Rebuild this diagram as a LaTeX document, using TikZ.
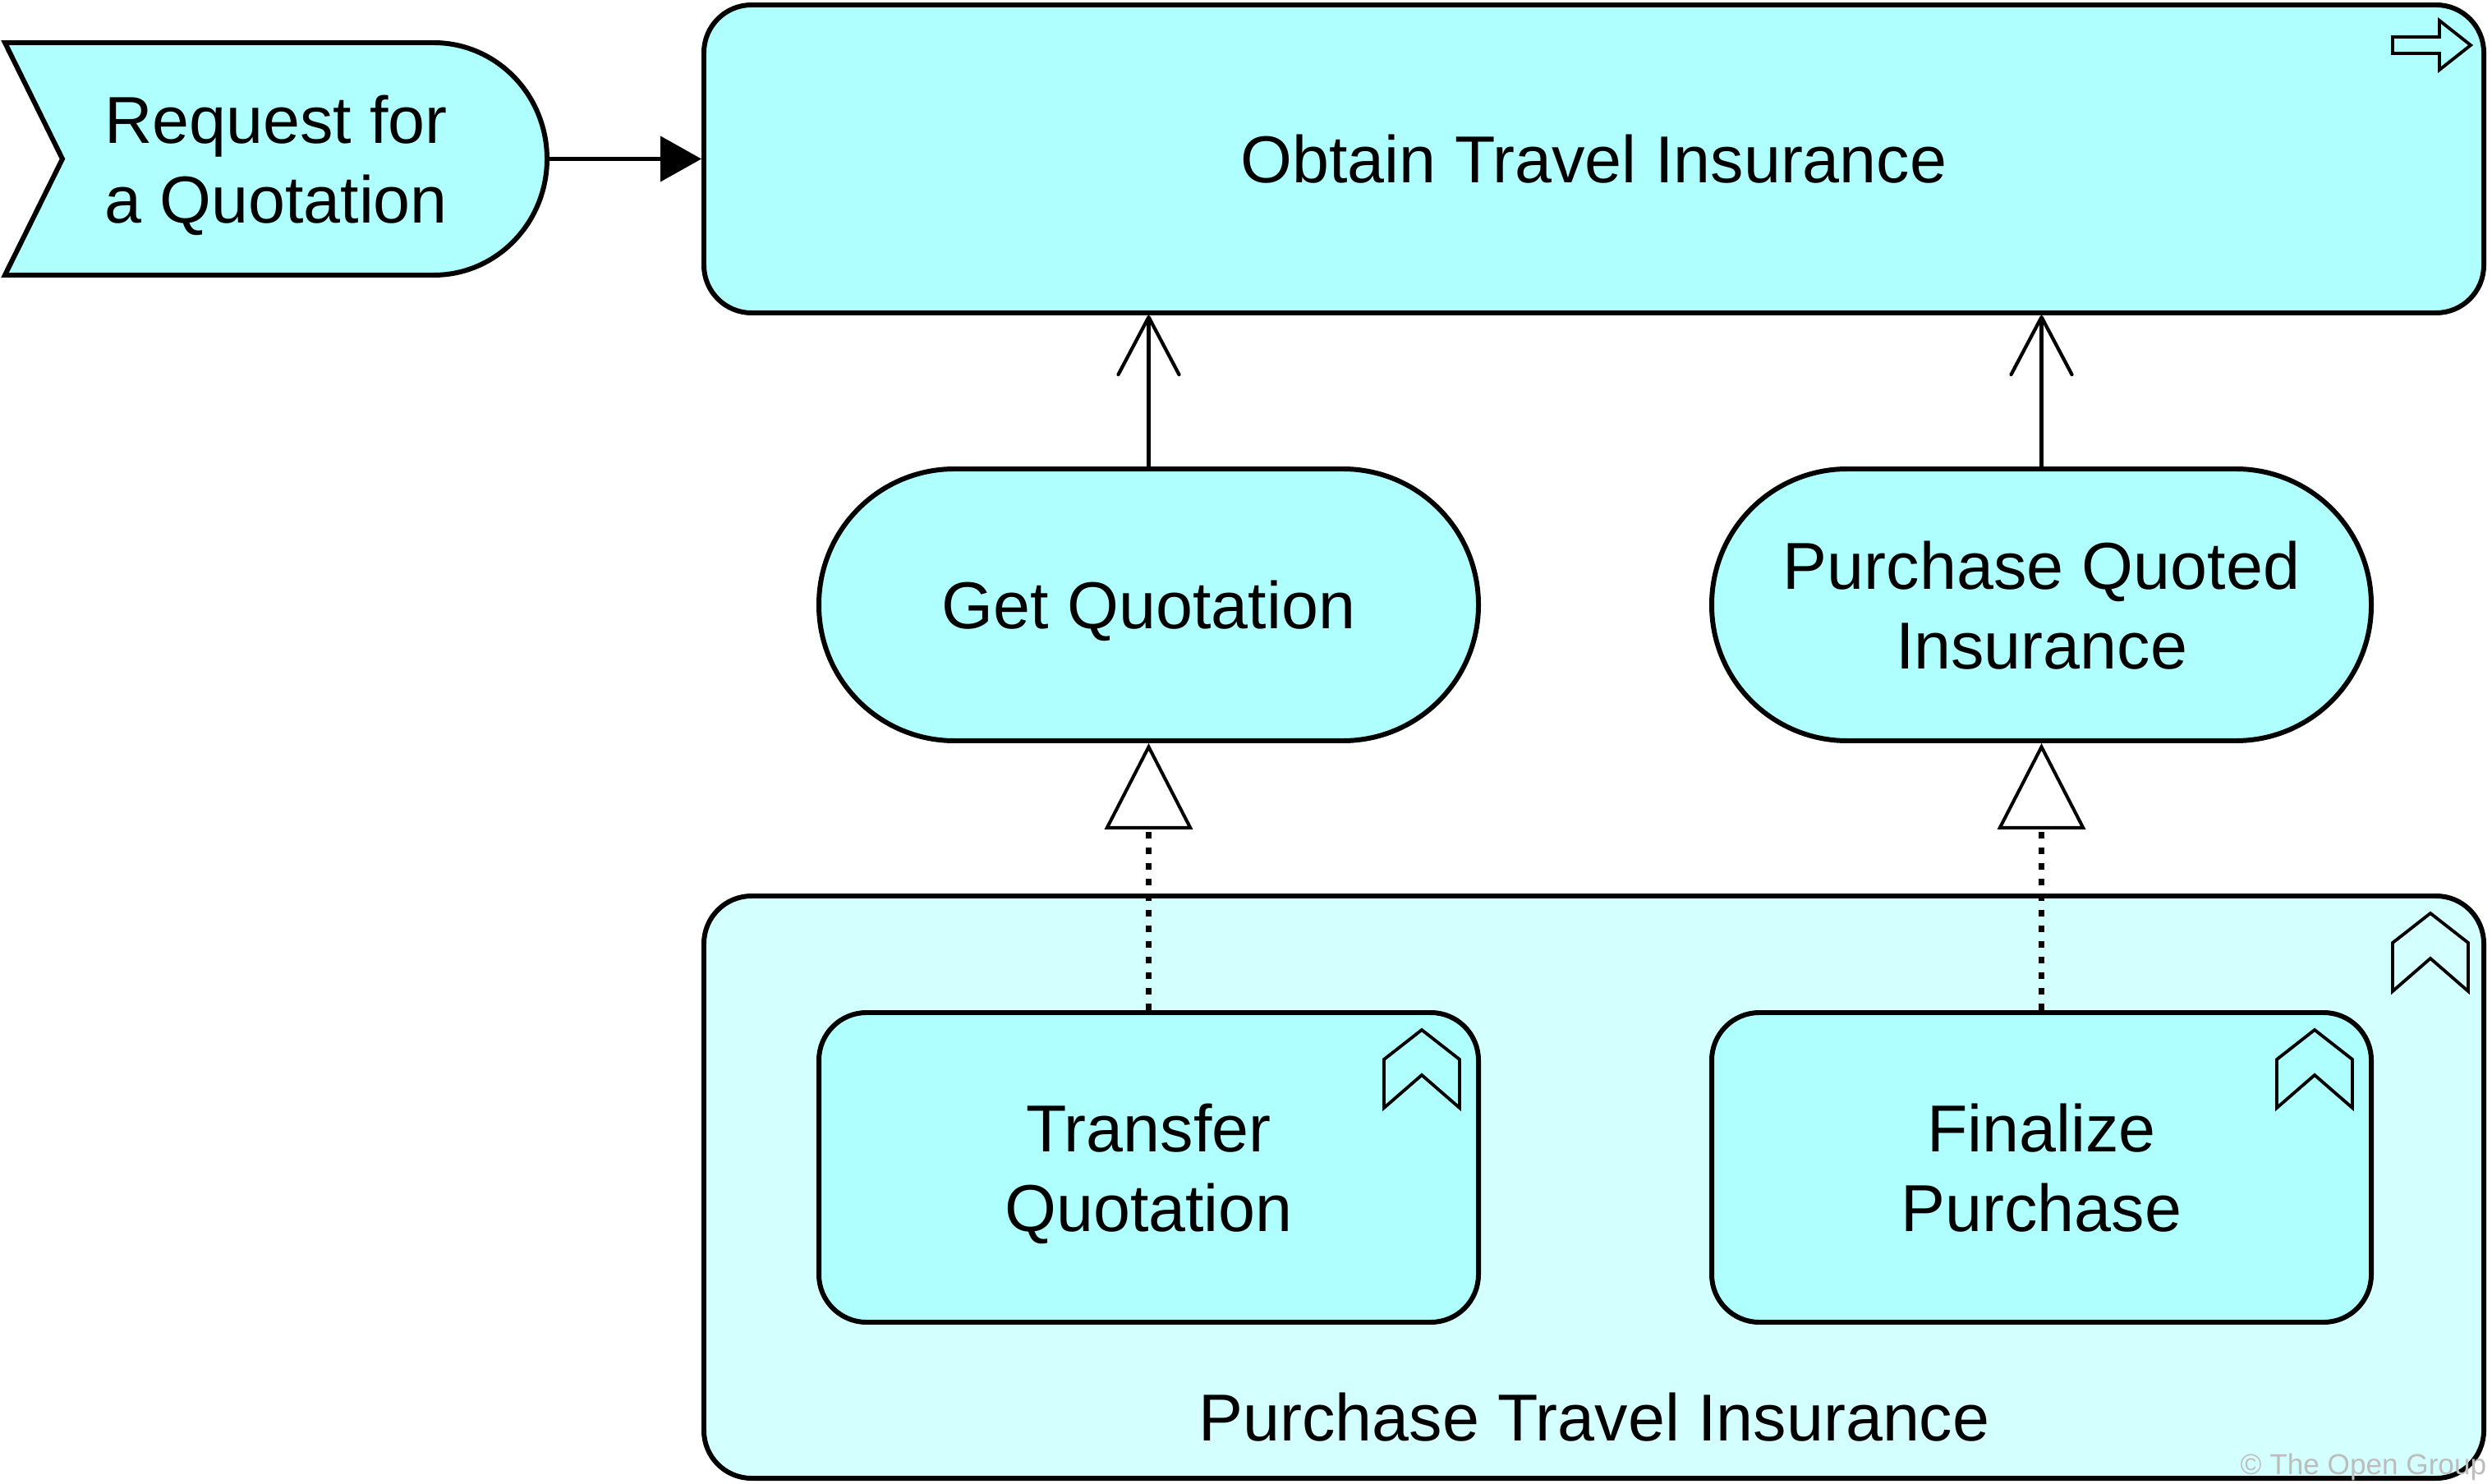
\documentclass[tikz,border=0pt]{standalone}
\usepackage{fontspec}
\setmainfont{Liberation Sans}
\usetikzlibrary{arrows.meta}

\definecolor{elemfill}{HTML}{AFFFFF}
\definecolor{groupfill}{HTML}{D4FFFF}
\definecolor{notegray}{HTML}{BDBDBD}

\tikzset{
  element/.style={draw,line width=1.7pt,fill=elemfill,align=center,
    inner sep=0pt,text depth=0pt},
  process/.style={element,rounded corners=0.58cm,
    minimum width=21.67cm,minimum height=3.75cm},
  service/.style={element,rounded corners=1.65cm,
    minimum width=8.03cm,minimum height=3.31cm},
  function/.style={element,rounded corners=0.58cm,
    minimum width=8.03cm,minimum height=3.77cm},
  group/.style={function,fill=groupfill,
    minimum width=21.67cm,minimum height=7.09cm},
  icon/.style={line width=1.1pt,line join=miter},
  triggers/.style={line width=1.15pt,
    -{Triangle[length=0.5cm,width=0.55cm]}},
  serves/.style={line width=1.2pt,
    -{Straight Barb[length=0.7cm,width=0.74cm,round]}},
  realizes/.style={line width=1.8pt,dash pattern=on 2.4pt off 3pt,
    -{Triangle[length=1.05cm,width=1.07cm,fill=white,line width=1.15pt]}},
  procicon/.pic={
    \draw[icon] (0,0) -- (-0.38,0.30) -- (-0.38,0.10) -- (-0.95,0.10)
      -- (-0.95,-0.10) -- (-0.38,-0.10) -- (-0.38,-0.30) -- cycle;
  },
  funcicon/.pic={
    \draw[icon] (0,0) -- (0.46,-0.36) -- (0.46,-0.95) -- (0,-0.55)
      -- (-0.46,-0.95) -- (-0.46,-0.36) -- cycle;
  }
}

\begin{document}
\begin{tikzpicture}[font=\fontsize{23}{27.6}\selectfont]
    \useasboundingbox (0,0) rectangle (30.34,18.06);

    \draw[line width=1.7pt,fill=elemfill,line join=miter]
        (0.06,17.54) -- (5.28,17.54)
        arc[start angle=90,end angle=-90,x radius=1.38,y radius=1.415]
        -- (0.06,14.71) -- (0.76,16.125) -- cycle;
    \node[align=center,inner sep=0pt,text depth=0pt,
        minimum width=6.60cm,minimum height=2.83cm]
        (request) at (3.36,16.125) {Request for\\a Quotation};

    \node[process] (obtain) at (19.405,16.125) {Obtain Travel Insurance};
    \pic at ([shift={(-0.19,-0.52)}]obtain.north east) {procicon};

    \node[service] (getquote) at (13.985,10.695) {Get Quotation};
    \node[service] (buyquoted) at (24.855,10.695)
        {Purchase Quoted\\Insurance};

    \node[group] (buytravel) at (19.405,3.605) {};
    \pic at ([shift={(-0.68,-0.24)}]buytravel.north east) {funcicon};
    \node (buytravel-label) at (19.41,0.80) {Purchase Travel Insurance};

    \node[function] (transfer) at (13.985,3.845) {Transfer\\Quotation};
    \pic at ([shift={(-0.72,-0.24)}]transfer.north east) {funcicon};
    \node[function] (finalize) at (24.855,3.845) {Finalize\\Purchase};
    \pic at ([shift={(-0.72,-0.24)}]finalize.north east) {funcicon};

    \draw[triggers] (request.east) -- (obtain.west);
    \draw[serves] (getquote.north) -- (getquote.north |- obtain.south);
    \draw[serves] (buyquoted.north) -- (buyquoted.north |- obtain.south);
    \draw[realizes] (transfer.north) -- (getquote.south);
    \draw[realizes] (finalize.north) -- (buyquoted.south);

    \node[anchor=base west,inner sep=0pt,text=notegray,
        font=\fontsize{10}{12}\selectfont]
        (copyright) at (27.27,0.11) {© The Open Group};
\end{tikzpicture}
\end{document}
